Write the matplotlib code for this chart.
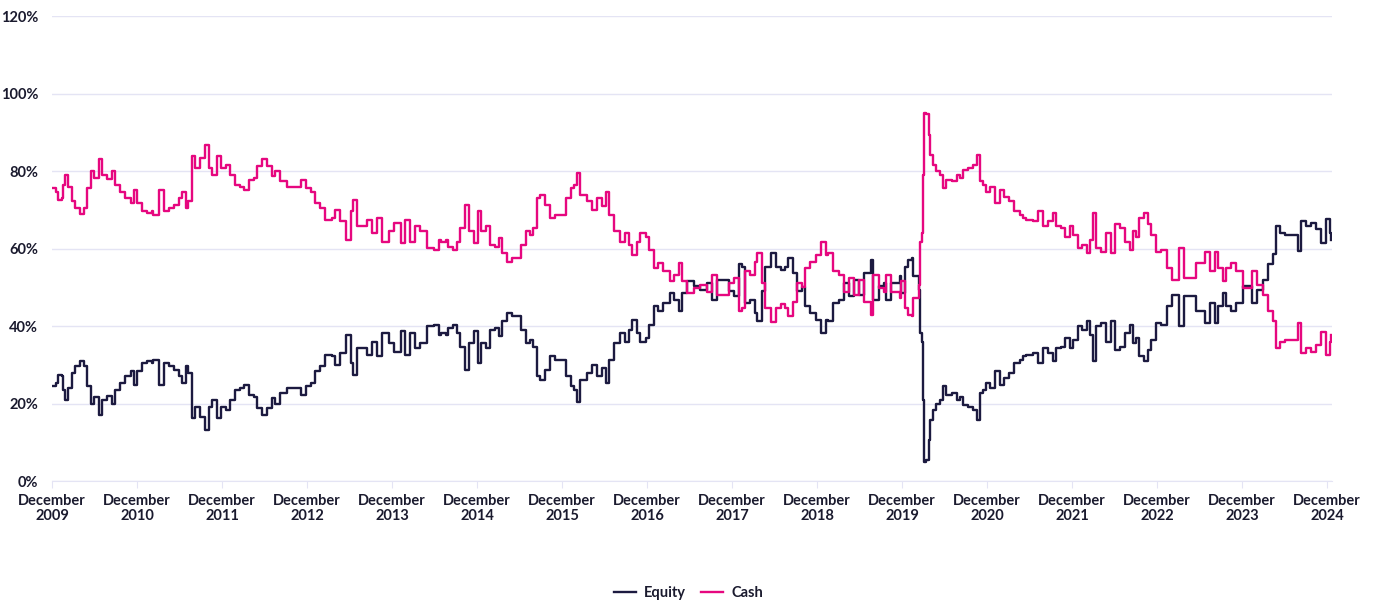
"""Equity vs cash allocation over time."""

import matplotlib
matplotlib.use("Agg")
import matplotlib.pyplot as plt
from matplotlib.ticker import FuncFormatter

plt.rcParams["font.family"] = ["Lato", "DejaVu Sans"]

# Dates as decimal years, values in percent
years = [
    2009.92, 2009.96, 2009.99, 2010.03, 2010.05, 2010.07, 2010.11, 2010.15, 2010.19, 2010.25,
    2010.29, 2010.33, 2010.37, 2010.41, 2010.47, 2010.50, 2010.56, 2010.62, 2010.66, 2010.72,
    2010.78, 2010.84, 2010.88, 2010.92, 2010.98, 2011.03, 2011.09, 2011.11, 2011.17, 2011.23,
    2011.29, 2011.35, 2011.41, 2011.45, 2011.49, 2011.52, 2011.56, 2011.60, 2011.66, 2011.72,
    2011.76, 2011.80, 2011.86, 2011.90, 2011.96, 2012.01, 2012.07, 2012.13, 2012.17, 2012.23,
    2012.29, 2012.33, 2012.39, 2012.45, 2012.51, 2012.54, 2012.60, 2012.68, 2012.76, 2012.84,
    2012.90, 2012.96, 2013.01, 2013.07, 2013.13, 2013.21, 2013.25, 2013.31, 2013.37, 2013.43,
    2013.46, 2013.51, 2013.58, 2013.62, 2013.68, 2013.74, 2013.80, 2013.88, 2013.94, 2014.02,
    2014.07, 2014.13, 2014.19, 2014.25, 2014.33, 2014.41, 2014.47,
    2014.49, 2014.55, 2014.58, 2014.64, 2014.68, 2014.72, 2014.77, 2014.82, 2014.88, 2014.93,
    2014.96, 2015.02, 2015.07, 2015.13, 2015.17, 2015.21, 2015.27, 2015.33, 2015.38, 2015.43,
    2015.49, 2015.54, 2015.58, 2015.62, 2015.66, 2015.72, 2015.78, 2015.84, 2015.90, 2015.96,
    2016.02, 2016.06, 2016.09, 2016.13, 2016.21, 2016.27, 2016.33, 2016.39, 2016.43, 2016.47,
    2016.53, 2016.60, 2016.66, 2016.70, 2016.74, 2016.80, 2016.84, 2016.90, 2016.94, 2017.00,
    2017.05, 2017.11, 2017.19, 2017.23, 2017.29, 2017.33, 2017.39, 2017.47, 2017.54, 2017.62,
    2017.68, 2017.74, 2017.82, 2017.88, 2017.94, 2018.00, 2018.03, 2018.07, 2018.13, 2018.19,
    2018.21, 2018.27, 2018.31, 2018.37, 2018.43, 2018.49, 2018.54, 2018.58, 2018.64, 2018.68,
    2018.74, 2018.78, 2018.84, 2018.90, 2018.96, 2019.02, 2019.05, 2019.11, 2019.17, 2019.23,
    2019.29, 2019.35, 2019.41, 2019.47, 2019.55, 2019.58,
    2019.65, 2019.71, 2019.73, 2019.79, 2019.85, 2019.89, 2019.91, 2019.95, 2019.99, 2020.03,
    2020.05, 2020.09, 2020.12, 2020.13, 2020.15, 2020.16, 2020.18, 2020.20, 2020.23, 2020.25,
    2020.28, 2020.32, 2020.36, 2020.40, 2020.44, 2020.50, 2020.56, 2020.60, 2020.63, 2020.69,
    2020.75, 2020.80, 2020.83, 2020.87, 2020.91, 2020.95, 2021.01, 2021.07, 2021.12, 2021.18,
    2021.24, 2021.30, 2021.34, 2021.38, 2021.46, 2021.52, 2021.58, 2021.63, 2021.69, 2021.73,
    2021.79, 2021.83, 2021.89, 2021.93, 2021.99, 2022.03, 2022.09, 2022.13, 2022.16, 2022.20,
    2022.26, 2022.32, 2022.38, 2022.42, 2022.48, 2022.54, 2022.60, 2022.63, 2022.67, 2022.71,
    2022.77, 2022.81, 2022.85, 2022.91, 2022.97, 2023.03, 2023.09, 2023.14, 2023.18, 2023.24,
    2023.32, 2023.38, 2023.44, 2023.48, 2023.54, 2023.60, 2023.63, 2023.69, 2023.73, 2023.79,
    2023.85, 2023.93, 2024.01, 2024.04, 2024.09, 2024.16, 2024.22, 2024.28, 2024.32, 2024.36,
    2024.42, 2024.50, 2024.56, 2024.58, 2024.61, 2024.67, 2024.73, 2024.79, 2024.85, 2024.91,
    2024.95, 2024.97,
]

equity = [
    24.4, 25.3, 27.4, 27.0, 23.5, 21.0, 24.0, 27.8, 29.6, 31.1,
    29.6, 24.4, 20.0, 21.8, 17.0, 21.0, 22.0, 20.0, 23.5, 25.3,
    27.0, 28.3, 24.8, 28.3, 30.4, 30.9, 30.4, 31.3, 24.8, 30.4,
    29.6, 28.7, 27.0, 25.3, 29.6, 27.8, 16.2, 19.2, 16.6, 13.2,
    19.2, 21.0, 16.2, 19.2, 18.4, 21.0, 23.5, 24.0, 24.8, 22.2,
    21.8, 18.8, 17.0, 18.8, 21.4, 20.0, 22.7, 24.0, 24.0, 22.2,
    24.4, 25.3, 28.3, 29.6, 32.6, 32.2, 30.0, 33.0, 37.8, 30.4,
    27.4, 34.3, 34.3, 32.6, 36.0, 32.2, 38.2, 35.6, 33.4, 38.6,
    32.6, 38.2, 34.3, 35.6, 39.9, 40.3, 37.8,
    38.2, 37.8, 39.5, 40.3, 38.2, 34.7, 28.7, 35.6, 38.6, 30.4,
    35.6, 34.3, 39.0, 39.5, 37.3, 41.2, 43.4, 42.5, 42.5, 39.0,
    35.6, 36.5, 34.7, 27.0, 26.1, 28.7, 32.2, 31.3, 31.3, 27.0,
    24.4, 23.5, 20.5, 26.1, 27.8, 30.0, 27.0, 29.1, 25.3, 31.3,
    35.6, 38.2, 36.0, 39.0, 41.6, 38.2, 36.0, 36.9, 40.3, 45.1,
    43.8, 45.9, 48.5, 46.8, 43.8, 48.5, 51.6, 50.3, 49.4, 51.1,
    46.8, 52.0, 52.0, 49.0, 47.7, 56.1, 55.3, 45.9, 46.8, 43.4,
    41.2, 49.0, 55.3, 58.9, 55.3, 54.4, 55.3, 57.5, 53.7, 49.0,
    50.0, 45.1, 43.4, 41.6, 38.2, 41.6, 41.2, 45.9, 46.8, 51.1,
    47.7, 52.0, 48.1, 53.7, 57.1, 46.8,
    50.3, 51.1, 46.8, 51.1, 51.1, 52.8, 48.5, 55.3, 57.1, 57.5,
    52.8, 52.8, 49.4, 38.2, 36.0, 21.0, 5.0, 5.4, 10.6, 15.8,
    18.4, 20.0, 21.0, 24.4, 22.2, 22.7, 21.0, 21.8, 19.7, 19.2,
    18.4, 15.8, 22.7, 23.5, 25.3, 24.0, 28.3, 24.8, 26.6, 27.8,
    30.4, 31.3, 32.2, 32.6, 33.0, 30.4, 34.3, 33.0, 30.9, 34.3,
    34.7, 36.9, 34.3, 36.5, 39.9, 39.0, 41.2, 37.8, 30.9, 39.9,
    40.8, 36.0, 41.2, 33.8, 34.7, 38.2, 40.3, 35.6, 36.9, 32.2,
    30.9, 33.8, 36.5, 40.8, 40.3, 45.1, 48.1, 48.1, 39.9, 47.7,
    47.7, 43.8, 43.8, 40.8, 45.9, 40.8, 45.1, 48.5, 45.1, 43.8,
    45.9, 50.3, 50.3, 45.9, 49.4, 52.0, 56.1, 58.7, 65.8, 64.0,
    63.6, 63.6, 63.6, 59.3, 67.0, 65.8, 66.7, 65.0, 61.5, 67.5,
    64.0, 62.2,
]

cash = [
    75.6, 74.7, 72.6, 73.0, 76.5, 79.0, 76.0, 72.2, 70.4, 68.9,
    70.4, 75.6, 80.0, 78.2, 83.0, 79.0, 78.0, 80.0, 76.5, 74.7,
    73.0, 71.7, 75.2, 71.7, 69.6, 69.1, 69.6, 68.7, 75.2, 69.6,
    70.4, 71.3, 73.0, 74.7, 70.4, 72.2, 83.8, 80.8, 83.4, 86.8,
    80.8, 79.0, 83.8, 80.8, 81.6, 79.0, 76.5, 76.0, 75.2, 77.8,
    78.2, 81.2, 83.0, 81.2, 78.6, 80.0, 77.3, 76.0, 76.0, 77.8,
    75.6, 74.7, 71.7, 70.4, 67.4, 67.8, 70.0, 67.0, 62.2, 69.6,
    72.6, 65.7, 65.7, 67.4, 64.0, 67.8, 61.8, 64.4, 66.6, 61.4,
    67.4, 61.8, 65.7, 64.4, 60.1, 59.7, 62.2,
    61.8, 62.2, 60.5, 59.7, 61.8, 65.3, 71.3, 64.4, 61.4, 69.6,
    64.4, 65.7, 61.0, 60.5, 62.7, 58.8, 56.6, 57.5, 57.5, 61.0,
    64.4, 63.5, 65.3, 73.0, 73.9, 71.3, 67.8, 68.7, 68.7, 73.0,
    75.6, 76.5, 79.5, 73.9, 72.2, 70.0, 73.0, 70.9, 74.7, 68.7,
    64.4, 61.8, 64.0, 61.0, 58.4, 61.8, 64.0, 63.1, 59.7, 54.9,
    56.2, 54.1, 51.5, 53.2, 56.2, 51.5, 48.4, 49.7, 50.6, 48.9,
    53.2, 48.0, 48.0, 51.0, 52.3, 43.9, 44.7, 54.1, 53.2, 56.6,
    58.8, 51.0, 44.7, 41.1, 44.7, 45.6, 44.7, 42.5, 46.3, 51.0,
    50.0, 54.9, 56.6, 58.4, 61.8, 58.4, 58.8, 54.1, 53.2, 48.9,
    52.3, 48.0, 51.9, 46.3, 42.9, 53.2,
    49.7, 48.9, 53.2, 48.9, 48.9, 47.2, 51.5, 44.7, 42.9, 42.5,
    47.2, 47.2, 50.6, 61.8, 64.0, 79.0, 95.0, 94.6, 89.4, 84.2,
    81.6, 80.0, 79.0, 75.6, 77.8, 77.3, 79.0, 78.2, 80.3, 80.8,
    81.6, 84.2, 77.3, 76.5, 74.7, 76.0, 71.7, 75.2, 73.4, 72.2,
    69.6, 68.7, 67.8, 67.4, 67.0, 69.6, 65.7, 67.0, 69.1, 65.7,
    65.3, 63.1, 65.7, 63.5, 60.1, 61.0, 58.8, 62.2, 69.1, 60.1,
    59.2, 64.0, 58.8, 66.2, 65.3, 61.8, 59.7, 64.4, 63.1, 67.8,
    69.1, 66.2, 63.5, 59.2, 59.7, 54.9, 51.9, 51.9, 60.1, 52.3,
    52.3, 56.2, 56.2, 59.2, 54.1, 59.2, 54.9, 51.5, 54.9, 56.2,
    54.1, 49.7, 49.7, 54.1, 50.6, 48.0, 43.9, 41.3, 34.2, 36.0,
    36.4, 36.4, 36.4, 40.7, 33.0, 34.2, 33.3, 35.0, 38.5, 32.5,
    36.0, 37.8,
]

tick_years = list(range(2009, 2025))
tick_labels = [f"December\n{y}" for y in tick_years]
y_ticks = [0, 20, 40, 60, 80, 100, 120]

equity_color = "#1c1a40"
cash_color = "#e6077f"
grid_color = "#e4e4f4"
text_color = "#1a1a2e"

fig = plt.figure(figsize=(13.77, 6.04), dpi=100)
ax = fig.add_axes([0.0378, 0.2036, 0.9295, 0.7699])

# weekly-style allocation data: draw as steps
ax.plot(years, equity, color=equity_color, linewidth=1.7, drawstyle="steps-post",
        label="Equity")
ax.plot(years, cash, color=cash_color, linewidth=1.7, drawstyle="steps-post",
        label="Cash")

ax.set_xlim(2009 + 11 / 12, 2024.976)
ax.set_ylim(0, 120)
ax.set_xticks([y + 11 / 12 for y in tick_years])
ax.set_xticklabels(tick_labels)
ax.set_yticks(y_ticks)
ax.yaxis.set_major_formatter(FuncFormatter(lambda v, _: f"{v:.0f}%"))

ax.grid(axis="y", color=grid_color, linewidth=1)
ax.set_axisbelow(True)
for side in ["top", "right", "left"]:
    ax.spines[side].set_visible(False)
ax.spines["bottom"].set_color(grid_color)
ax.tick_params(axis="x", length=5, color=grid_color, pad=4,
               labelsize=10.5, labelcolor=text_color)
ax.tick_params(axis="y", length=0, pad=10, labelsize=10.5, labelcolor=text_color)
for lbl in ax.get_xticklabels() + ax.get_yticklabels():
    lbl.set_fontweight("bold")
for lbl in ax.get_xticklabels():
    lbl.set_linespacing(1.1)

leg = fig.legend(loc="center", bbox_to_anchor=(0.5, 0.018), ncol=2,
                 frameon=False, handlelength=1.5, columnspacing=1.0,
                 handletextpad=0.6, prop={"size": 10.5, "weight": "bold"})
for t in leg.get_texts():
    t.set_color(text_color)

fig.savefig("out.png", dpi=100, facecolor="white")
